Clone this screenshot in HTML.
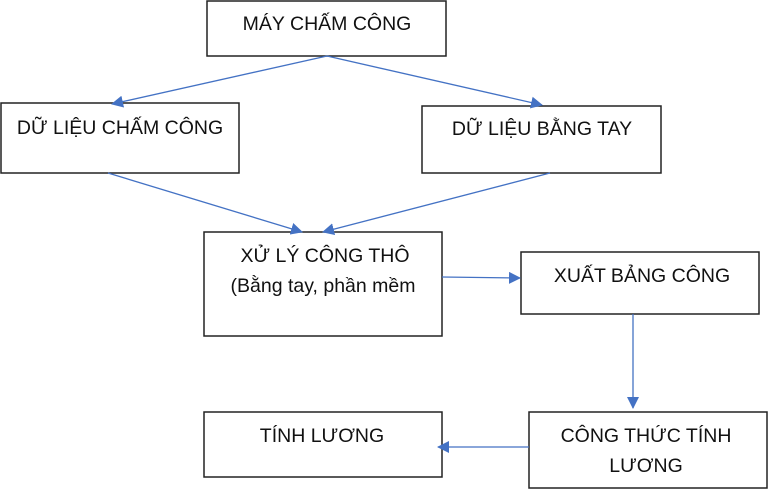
<!DOCTYPE html>
<html><head><meta charset="utf-8"><style>
html,body{margin:0;padding:0;background:#fff;}
svg{display:block;}
text{font-family:"Liberation Sans",sans-serif;font-size:19.5px;fill:#111;}
</style></head><body>
<svg width="768" height="490" viewBox="0 0 768 490">
<defs><marker id="a" markerWidth="12" markerHeight="12" refX="11" refY="6" orient="auto" markerUnits="userSpaceOnUse"><path d="M0,0 L12,6 L0,12 z" fill="#4472C4"/></marker></defs>
<g fill="#fff" stroke="#222" stroke-width="1.5">
<rect x="207" y="1" width="239" height="55"/>
<rect x="1" y="103" width="238" height="70"/>
<rect x="422" y="106" width="239" height="67"/>
<rect x="204" y="232" width="238" height="104"/>
<rect x="521" y="252" width="238" height="62"/>
<rect x="529" y="412" width="238" height="76"/>
<rect x="204" y="412" width="238" height="65"/>
</g>
<g stroke="#4472C4" stroke-width="1.3" fill="none" marker-end="url(#a)">
<line x1="327" y1="56" x2="112" y2="104"/>
<line x1="327" y1="56" x2="542" y2="105"/>
<line x1="108" y1="173" x2="302" y2="232"/>
<line x1="550" y1="173" x2="323" y2="232"/>
<line x1="442" y1="277" x2="520" y2="278"/>
<line x1="633" y1="314" x2="633" y2="408"/>
<line x1="529" y1="447" x2="438" y2="447"/>
</g>
<text x="327" y="30" text-anchor="middle">MÁY CHẤM CÔNG</text>
<text x="120" y="134" text-anchor="middle">DỮ LIỆU CHẤM CÔNG</text>
<text x="542" y="135" text-anchor="middle">DỮ LIỆU BẰNG TAY</text>
<text x="325" y="262" text-anchor="middle">XỬ LÝ CÔNG THÔ</text>
<text x="323" y="292" text-anchor="middle">(Bằng tay, phần mềm</text>
<text x="642" y="282" text-anchor="middle">XUẤT BẢNG CÔNG</text>
<text x="646" y="442" text-anchor="middle">CÔNG THỨC TÍNH</text>
<text x="646" y="472" text-anchor="middle">LƯƠNG</text>
<text x="322" y="442" text-anchor="middle">TÍNH LƯƠNG</text>
</svg>
</body></html>
